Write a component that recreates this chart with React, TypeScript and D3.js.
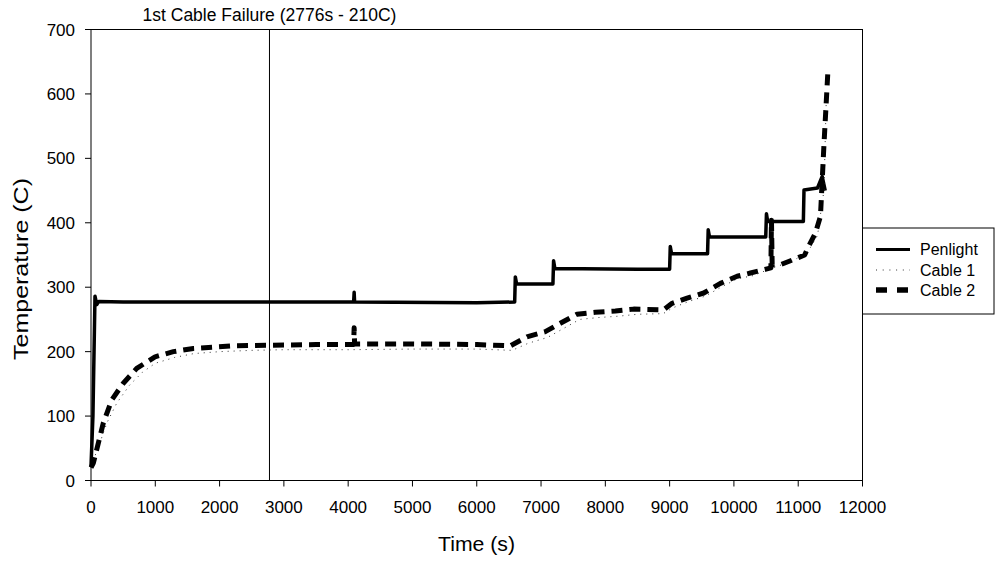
import React from "react";
import * as d3 from "d3";

// ---- data ----
const penlightT = [0, 30, 62, 90, 120, 500, 2000, 4085, 4093, 4100, 6000, 6590, 6600, 6620, 7000, 7185, 7195, 7215, 8500, 9000, 9010, 9030, 9590, 9600, 9620, 10495, 10506, 10525, 11080, 11090, 11300, 11373, 11420];
const penlightV = [22, 100, 286, 273, 278, 277, 277, 277, 292, 277, 276, 277, 316, 305, 305, 305, 341, 329, 328, 328, 363, 352, 352, 389, 378, 378, 414, 402, 402, 451, 454, 472, 450];

const cable1T = [0, 50, 150, 250, 400, 600, 800, 1000, 1300, 1600, 2000, 2500, 3000, 4000, 5000, 6000, 6550, 6800, 7100, 7350, 7600, 7900, 8200, 8500, 8900, 9050, 9300, 9550, 9800, 10050, 10300, 10600, 10900, 11150, 11300, 11400, 11440];
const cable1V = [22, 35, 62, 90, 120, 148, 168, 182, 191, 197, 200, 202, 203, 203, 204, 204, 202, 213, 222, 236, 250, 253, 255, 258, 259, 268, 278, 286, 300, 313, 318, 330, 340, 355, 380, 450, 605];

const cable2T = [0, 36, 114, 191, 322, 503, 711, 996, 1281, 1592, 1904, 2215, 2776, 3500, 4085, 4093, 4100, 5000, 6000, 6521, 6780, 7066, 7300, 7559, 7844, 8156, 8440, 8907, 9038, 9271, 9530, 9790, 10050, 10257, 10500, 10575, 10584, 10595, 10724, 10930, 11100, 11160, 11268, 11346, 11400, 11460];
const cable2V = [20, 27, 58, 89, 125, 151, 174, 192, 200, 205, 207, 209, 210, 211, 211, 237, 212, 212, 211, 209, 223, 231, 244, 258, 261, 263, 266, 265, 275, 283, 291, 306, 317, 322, 328, 330, 404, 335, 335, 343, 350, 363, 384, 410, 520, 632];

const xTicks = [0, 1000, 2000, 3000, 4000, 5000, 6000, 7000, 8000, 9000, 10000, 11000, 12000];
const yTicks = [0, 100, 200, 300, 400, 500, 600, 700];
const failureTime = 2776;
const failureLabel = "1st Cable Failure (2776s - 210C)";
const seriesNames = ["Penlight", "Cable 1", "Cable 2"];

const FONT = "'Liberation Sans', Arial, Helvetica, sans-serif";

export default function App() {
  const x = d3.scaleLinear().domain([0, 12000]).range([91, 862.5]);
  const y = d3.scaleLinear().domain([0, 700]).range([480.5, 29.5]);
  const line = d3
    .line<[number, number]>()
    .x((d) => x(d[0]))
    .y((d) => y(d[1]));
  const zip = (t: number[], v: number[]) => t.map((tt, i) => [tt, v[i]] as [number, number]);

  const styles = [
    { stroke: "#000", width: 3.5, dash: undefined as string | undefined },
    { stroke: "#333", width: 1, dash: "1 5" },
    { stroke: "#000", width: 5, dash: "11 7" },
  ];
  const data = [zip(penlightT, penlightV), zip(cable1T, cable1V), zip(cable2T, cable2V)];

  const [x0, x1] = x.range();
  const [y0, y1] = y.range();
  const legendY = [249.5, 270, 290];

  return (
    <svg
      width={997}
      height={561}
      style={{ position: "absolute", left: 0, top: 0, background: "#fff" }}
      fontFamily={FONT}
    >
      <rect x={0} y={0} width={997} height={561} fill="#fff" />
      {/* frame */}
      <rect x={x0} y={y1} width={x1 - x0} height={y0 - y1} fill="none" stroke="#000" strokeWidth={1} />

      {/* failure marker */}
      <line x1={x(failureTime)} x2={x(failureTime)} y1={y0} y2={y1} stroke="#000" strokeWidth={1} />
      <text x={x(failureTime)} y={21} textAnchor="middle" fontSize={17.5} fill="#000">
        {failureLabel}
      </text>

      {/* series */}
      {data.map((d, i) => (
        <path
          key={i}
          d={line(d) || ""}
          fill="none"
          stroke={styles[i].stroke}
          strokeWidth={styles[i].width}
          strokeDasharray={styles[i].dash}
          strokeLinejoin="round"
        />
      ))}

      {/* x axis */}
      {xTicks.map((t) => (
        <g key={"x" + t}>
          <line x1={x(t)} x2={x(t)} y1={y0} y2={y0 + 6} stroke="#000" />
          <text x={x(t)} y={512.7} textAnchor="middle" fontSize={17}>
            {t}
          </text>
        </g>
      ))}
      {/* y axis */}
      {yTicks.map((v) => (
        <g key={"y" + v}>
          <line x1={x0 - 6} x2={x0} y1={y(v)} y2={y(v)} stroke="#000" />
          <text x={75} y={y(v) + 6} textAnchor="end" fontSize={17}>
            {v}
          </text>
        </g>
      ))}

      <text x={476.5} y={551} textAnchor="middle" fontSize={20} textLength={77} lengthAdjust="spacingAndGlyphs">
        Time (s)
      </text>
      <text
        transform={`translate(28,269) rotate(-90)`}
        textAnchor="middle"
        fontSize={21}
        textLength={182}
        lengthAdjust="spacingAndGlyphs"
      >
        Temperature (C)
      </text>

      {/* legend */}
      <rect x={862.5} y={228} width={131.5} height={86} fill="#fff" stroke="#000" strokeWidth={1} />
      {seriesNames.map((n, i) => (
        <g key={n}>
          <line
            x1={876}
            x2={910}
            y1={legendY[i]}
            y2={legendY[i]}
            stroke={styles[i].stroke}
            strokeWidth={i === 0 ? 3 : styles[i].width === 5 ? 5.5 : 1}
            strokeDasharray={i === 1 ? "1 5.7" : i === 2 ? "11 10" : undefined}
          />
          <text x={920} y={legendY[i] + 5.8} fontSize={16}>
            {n}
          </text>
        </g>
      ))}
    </svg>
  );
}
